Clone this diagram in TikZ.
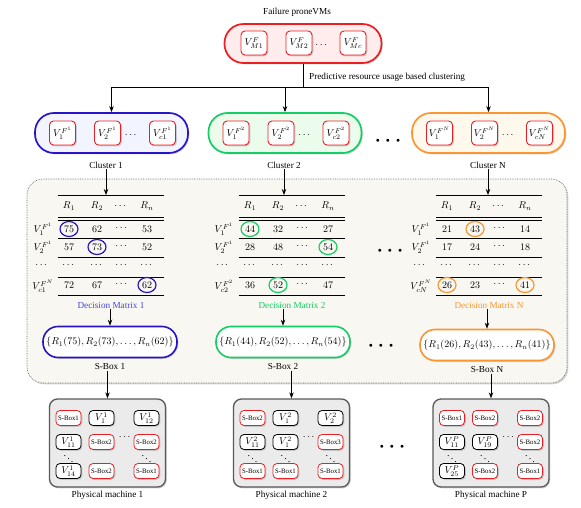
\documentclass[tikz,border=0pt]{standalone}
\usepackage{amsmath}
\usepackage{fontspec}
\setmainfont{Liberation Serif}
\usepackage{xcolor}
\usetikzlibrary{arrows.meta,positioning,shadows}

\definecolor{vmred}{RGB}{235,30,35}
\definecolor{clblue}{RGB}{40,20,200}
\definecolor{clgreen}{RGB}{20,205,100}
\definecolor{clorange}{RGB}{250,150,50}
\definecolor{dmblue}{RGB}{70,70,230}
\definecolor{topfill}{RGB}{255,236,236}
\definecolor{blufill}{RGB}{242,244,255}
\definecolor{grnfill}{RGB}{236,252,236}
\definecolor{orgfill}{RGB}{255,248,236}
\definecolor{regfill}{RGB}{249,247,241}

\begin{document}
\begin{tikzpicture}[x=1pt, y=-1pt,
  shad/.style={drop shadow={shadow xshift=1.3pt, shadow yshift=-1.3pt, opacity=0.35}},
  lbl/.style={font=\fontsize{9.2}{11}\selectfont, inner sep=1pt},
  cell/.style={font=\fontsize{10}{11}\selectfont, inner sep=0pt},
  vmbox/.style={draw=vmred, line width=0.9pt, fill=white, rounded corners=4pt, minimum width=26pt,
    minimum height=24pt, inner sep=1pt, shad, font=\fontsize{10}{11}\selectfont},
  group/.style={line width=1.7pt, rounded corners=19pt, minimum width=153pt, minimum height=40pt, shad},
  arr/.style={-{Stealth[length=6pt,width=4.5pt]}, line width=0.8pt},
  tabrule/.style={line width=0.6pt, black},
  pick/.style={line width=1.2pt},
  sbox/.style={line width=1.6pt, rounded corners=15pt, fill=white, minimum width=134pt, minimum height=31pt,
    shad, font=\fontsize{10}{11}\selectfont},
  pm/.style={draw=black!65, line width=1.3pt, fill=black!8, rounded corners=8pt, minimum width=116pt,
    minimum height=88pt, shad},
  pmvm/.style={draw=black, line width=0.8pt, fill=white, rounded corners=4pt, minimum width=25pt,
    minimum height=15pt, inner sep=0.5pt, shad, font=\fontsize{10}{11}\selectfont},
  pmsb/.style={pmvm, draw=vmred, font=\fontsize{6.8}{7}\selectfont},
  gapdots/.style={font=\scriptsize, inner sep=0pt}]
\useasboundingbox (0,0) rectangle (581,508);

\draw[densely dotted, draw=black!60, line width=0.7pt, fill=regfill, rounded corners=16pt, shad]
  (27,179) rectangle (567,383);

\node[lbl] (title) at (297,12) {Failure proneVMs};
\node[group, draw=vmred, fill=topfill, minimum width=157pt, minimum height=39pt] (fp) at (303,43.5) {};
\node[vmbox] (fp1) at (254,43) {$V_{M1}^F$};
\node[vmbox] (fp2) at (299,43) {$V_{M2}^F$};
\node (fpd) at (322,45) {$\cdots$};
\node[vmbox] (fp3) at (353,43) {$V_{Mc}^F$};

\coordinate (splitrow) at (0,87);
\coordinate (split) at (fp.south |- splitrow);
\draw[line width=0.8pt] (fp.south) -- (split);
\node[lbl, anchor=west] (clulbl) at (308,77) {Predictive resource usage based clustering};

\foreach \k/\cx/\lx/\s/\clr/\fl in {1/111.5/106/1/clblue/blufill, 2/285/284/2/clgreen/grnfill,
    3/488.5/488/N/clorange/orgfill}{
  \node[group, draw=\clr, fill=\fl] (c\k) at (\cx,133) {};
  \node[vmbox] (c\k-1) at (\cx-49,133) {$V_1^{F^{\s}}$};
  \node[vmbox] (c\k-2) at (\cx-4,133) {$V_2^{F^{\s}}$};
  \node (c\k-d) at (\cx+20,135) {$\cdots$};
  \node[vmbox] (c\k-3) at (\cx+51,133) {$V_{c\s}^{F^{\s}}$};
  \node[lbl] (cl\k) at (\lx,165) {Cluster \s};
  \draw[arr] (split) -| (c\k.north);
}

\foreach \k/\xo/\s/\fs/\clr in {1/58/1/N/dmblue, 2/239/2/2/clgreen, 3/436/N/N/clorange}{
  \coordinate (mt\k) at (\xo,195);
  \draw[tabrule, line width=1pt] (\xo,195) -- (\xo+106,195);
  \draw[tabrule] (\xo,217.5) -- (\xo+106,217.5) (\xo,219.8) -- (\xo+106,219.8);
  \foreach \y in {238,257,277} \draw[tabrule] (\xo,\y) -- (\xo+106,\y);
  \draw[tabrule, line width=1pt] (\xo,295) -- (\xo+106,295);
  \node[cell] (h\k-1) at (\xo+11,206) {$R_1$};
  \node[cell] (h\k-2) at (\xo+39,206) {$R_2$};
  \node[cell] (h\k-3) at (\xo+63,206) {$\cdots$};
  \node[cell] (h\k-4) at (\xo+89,206) {$R_n$};
  \node[cell] (r\k-1) at (\xo-15,229) {$V_1^{F^1}$};
  \node[cell] (r\k-2) at (\xo-15,247) {$V_2^{F^1}$};
  \node[cell] (r\k-3) at (\xo-16,265) {$\cdots$};
  \node[cell] (r\k-4) at (\xo-15,286) {$V_{c\s}^{F^{\fs}}$};
  \foreach \j/\dx in {1/11,2/39,3/64,4/89} \node[cell] (v\k-3-\j) at (\xo+\dx,265) {$\cdots$};
  \node[lbl, text=\clr] (dm\k) at (\xo+53,305) {Decision Matrix \s};
  \draw[arr] (cl\k.south) -- (cl\k.south |- mt\k);
}

\foreach \k/\xo/\r/\y/\va/\vb/\vc in {1/58/1/229/75/62/53, 1/58/2/247/57/73/52, 1/58/4/285/72/67/62,
    2/239/1/229/44/32/27, 2/239/2/247/28/48/54, 2/239/4/285/36/52/47,
    3/436/1/229/21/43/14, 3/436/2/247/17/24/18, 3/436/4/285/26/23/41}{
  \node[cell] (v\k-\r-1) at (\xo+11,\y) {$\va$};
  \node[cell] (v\k-\r-2) at (\xo+39,\y) {$\vb$};
  \node[cell] (v\k-\r-3) at (\xo+64,\y-1) {$\cdots$};
  \node[cell] (v\k-\r-4) at (\xo+89,\y) {$\vc$};
}
\foreach \c/\clr in {v1-1-1/clblue, v1-2-2/clblue, v1-4-4/clblue, v2-1-1/clgreen, v2-2-4/clgreen,
    v2-4-2/clgreen, v3-1-2/clorange, v3-4-1/clorange, v3-4-4/clorange}
  \draw[pick, draw=\clr] (\c) ellipse [x radius=9pt, y radius=7.5pt];

\node[sbox, draw=clblue] (sb1) at (110,342) {$\{R_1(75), R_2(73), \ldots, R_n(62)\}$};
\node[sbox, draw=clgreen] (sb2) at (283,342) {$\{R_1(44), R_2(52), \ldots, R_n(54)\}$};
\node[sbox, draw=clorange] (sb3) at (487,345) {$\{R_1(26), R_2(43), \ldots, R_n(41)\}$};

\node[pm] (pm1) at (107.5,443) {};
\node[pm] (pm2) at (291.5,443) {};
\node[pm] (pm3) at (491,443) {};

\foreach \k/\s/\p in {1/1/1, 2/2/2, 3/N/P}{
  \draw[arr] (sb\k.north |- dm\k.south) -- (sb\k.north);
  \node[lbl, below=4pt of sb\k] (sbl\k) {S-Box \s};
  \draw[arr] (pm\k.north |- sbl\k.south) -- (pm\k.north);
  \node[lbl, below=2pt of pm\k] (pml\k) {Physical machine \p};
  \node[cell] (pmd\k) at ([shift={(18,-6)}]pm\k.center) {$\cdots$};
}

\foreach \p/\n/\x/\y/\t in {1/a/-39/-25/1, 1/e/-6/-1/2, 1/f/39/-1/2, 1/h/-6/28/2, 1/i/39/28/1,
    2/a/-39/-25/2, 2/f/39/-1/3, 2/g/-39/28/1, 2/h/-6/28/1, 2/i/39/28/1,
    3/a/-39/-25/1, 3/b/-6/-25/2, 3/c/39/-25/2, 3/f/39/-1/2, 3/h/-6/28/2, 3/i/39/28/1}
  \node[pmsb] (p\p\n) at ([shift={(\x,\y)}]pm\p.center) {S-Box\t};
\foreach \p/\n/\x/\y/\t in {1/b/-6/-25/{V_1^1}, 1/c/39/-25/{V_{12}^1}, 1/d/-39/-1/{V_{11}^1}, 1/g/-39/28/{V_{14}^1},
    2/b/-6/-25/{V_1^2}, 2/c/39/-25/{V_2^2}, 2/d/-39/-1/{V_{11}^2}, 2/e/-6/-1/{V_1^2},
    3/d/-39/-1/{V_{11}^P}, 3/e/-6/-1/{V_{19}^P}, 3/g/-39/28/{V_{25}^P}}
  \node[pmvm] (p\p\n) at ([shift={(\x,\y)}]pm\p.center) {$\t$};
\foreach \p/\x in {1/-39, 1/39, 2/-39, 2/-6, 2/39, 3/-39, 3/-6, 3/39}
  \node[cell] (dd\p\x) at ([shift={(\x,13)}]pm\p.center) {$\ddots$};

\foreach \n/\x/\y in {1/388/141, 2/390/251, 3/381/346, 4/392/447}
  \node[gapdots] (gap\n) at (\x,\y) {$\bullet$\hspace{6pt}$\bullet$\hspace{6pt}$\bullet$};
\end{tikzpicture}
\end{document}
